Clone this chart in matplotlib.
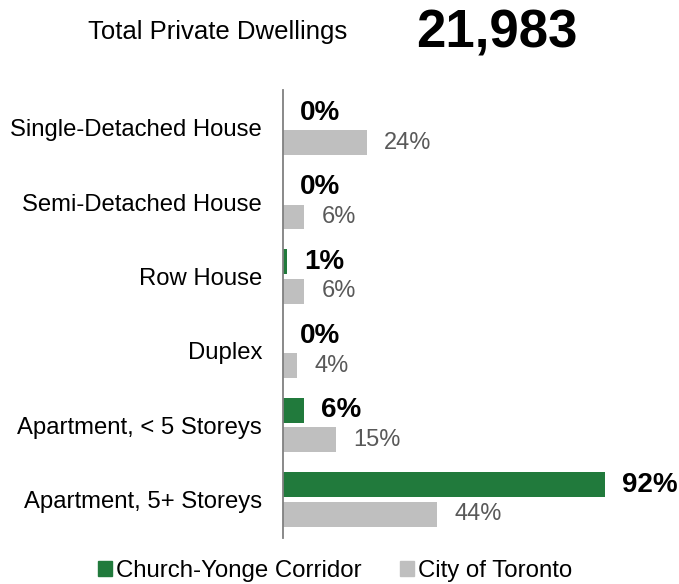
import matplotlib.pyplot as plt
from matplotlib.patches import Patch

plt.rcParams['font.family'] = ['Liberation Sans', 'DejaVu Sans']

categories = ["Single-Detached House", "Semi-Detached House", "Row House",
              "Duplex", "Apartment, < 5 Storeys", "Apartment, 5+ Storeys"]
corridor = [0, 0, 1, 0, 6, 92]
toronto = [24, 6, 6, 4, 15, 44]
total_label = "Total Private Dwellings"
total_value = "21,983"

green = "#217a3c"
grey = "#bfbfbf"

fig = plt.figure(figsize=(6.79, 5.84), dpi=100)
ax = fig.add_axes([283 / 679, 46 / 584, 350 / 679, 448 / 584])

pos = list(range(len(categories)))
h = 0.335
off = 0.2
ax.barh([p - off for p in pos], corridor, height=h, color=green)
ax.barh([p + off for p in pos], toronto, height=h, color=grey)

for p, v in zip(pos, corridor):
    ax.annotate(f"{v}%", (v, p - off), xytext=(12.5, 0), textcoords="offset points",
                va="center", ha="left", fontsize=20, fontweight="bold", color="black")
for p, v in zip(pos, toronto):
    ax.annotate(f"{v}%", (v, p + off), xytext=(12.5, 0), textcoords="offset points",
                va="center", ha="left", fontsize=17, color="#595959")

ax.set_xlim(0, 100)
ax.set_ylim(5.52, -0.51)
ax.set_yticks(pos)
ax.set_yticklabels(categories, fontsize=17.2)
ax.tick_params(axis="y", length=0, pad=15)
ax.set_xticks([])
for s in ["top", "right", "bottom"]:
    ax.spines[s].set_visible(False)
ax.spines["left"].set_color("#808080")
ax.spines["left"].set_linewidth(1.3)

fig.text(218 / 679, 1 - 32 / 584, total_label, fontsize=18.5, ha="center", va="center")
fig.text(497 / 679, 1 - 33 / 584, total_value, fontsize=38, fontweight="bold",
         ha="center", va="center")

handles = [Patch(color=green, label="Church-Yonge Corridor"),
           Patch(color=grey, label="City of Toronto")]
fig.legend(handles=handles, loc="center", bbox_to_anchor=(335 / 679, 1 - 571 / 584),
           ncol=2, frameon=False, fontsize=17.3, handlelength=0.6, handleheight=0.6,
           handletextpad=0.15, columnspacing=1.6)

fig.savefig("out.png", dpi=100)
